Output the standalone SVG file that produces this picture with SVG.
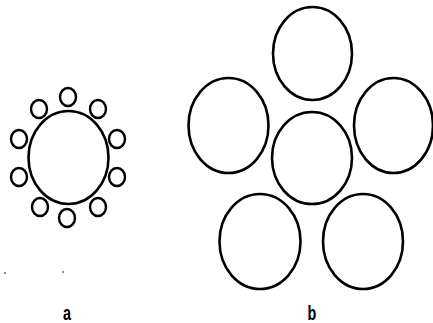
<svg xmlns="http://www.w3.org/2000/svg" width="433" height="323" viewBox="0 0 433 323">
<style>
.c{fill:none;stroke:#000;stroke-width:2.6}
.s{fill:none;stroke:#000;stroke-width:2.4}
.t{font-family:"Liberation Sans",Arial,sans-serif;font-size:20px;font-weight:bold;fill:#000;text-anchor:middle}
</style>
<rect width="433" height="323" fill="#fff"/>
<g id="a">
<ellipse id="a-center" class="c" cx="68.5" cy="157.5" rx="40" ry="46.5"/>
<ellipse class="s" cx="68" cy="97" rx="8" ry="9"/>
<ellipse class="s" cx="39" cy="109" rx="8" ry="9"/>
<ellipse class="s" cx="98" cy="109" rx="8" ry="9"/>
<ellipse class="s" cx="19" cy="139" rx="8" ry="9"/>
<ellipse class="s" cx="117" cy="139" rx="8" ry="9"/>
<ellipse class="s" cx="19" cy="177" rx="8" ry="9"/>
<ellipse class="s" cx="117" cy="177" rx="8" ry="9"/>
<ellipse class="s" cx="40" cy="207" rx="8" ry="9"/>
<ellipse class="s" cx="98" cy="207" rx="8" ry="9"/>
<ellipse class="s" cx="67" cy="218" rx="8" ry="9"/>
</g>
<g id="b">
<ellipse id="b-top" class="c" cx="312.5" cy="53.5" rx="39.5" ry="46.5"/>
<ellipse id="b-left" class="c" cx="228.5" cy="125.5" rx="40" ry="47.5"/>
<ellipse id="b-right" class="c" cx="393.5" cy="125.5" rx="39.5" ry="47.5"/>
<ellipse id="b-center" class="c" cx="312" cy="158" rx="40" ry="46"/>
<ellipse id="b-bl" class="c" cx="260" cy="241.5" rx="40.5" ry="47.5"/>
<ellipse id="b-br" class="c" cx="363" cy="241.5" rx="40" ry="47.5"/>
</g>
<circle cx="5" cy="273" r="0.8" fill="#000"/>
<circle cx="63" cy="272" r="0.8" fill="#000"/>
<text class="t" transform="translate(67,319.5) scale(0.72,1)">a</text>
<text class="t" transform="translate(312,319.5) scale(0.72,1)">b</text>
</svg>
